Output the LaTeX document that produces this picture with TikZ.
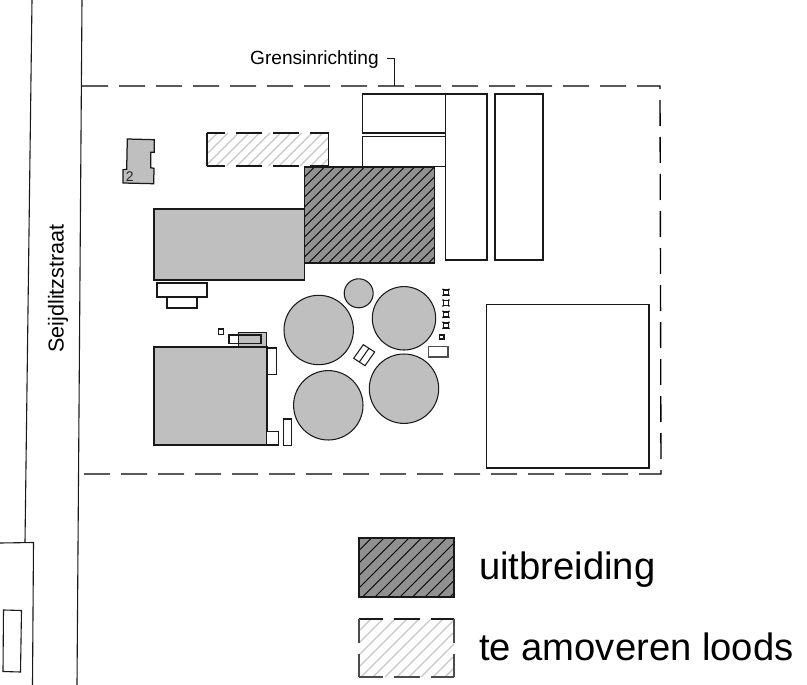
\documentclass[tikz,border=0pt]{standalone}
\usepackage{fontspec}
\setmainfont{Liberation Sans}
\definecolor{buildgray}{gray}{0.75}
\definecolor{newgray}{gray}{0.57}
\definecolor{oldhatch}{gray}{0.78}
\tikzset{
  outline/.style={draw=black!90,line width=1.05pt},
  plainbox/.style={outline,fill=white},
  graybox/.style={outline,fill=buildgray},
  tank/.style={outline,fill=buildgray},
  road/.style={draw=black!90,line width=1.1pt},
  fence/.style={draw=black,line width=1.35pt,dash pattern=on 26pt off 11pt},
  oldedge/.style={draw=black!90,line width=1.05pt,dash pattern=on 26pt off 11pt},
  hatchdark/.style={draw=black,line width=1pt},
  hatchlight/.style={draw=oldhatch,line width=1.2pt},
  lbl/.style={inner sep=0pt,text=black}
}
\newcommand{\hatchbox}[6]{% x1,y1,x2,y2,spacing,style
  \begin{scope}
    \clip (#1,#2) rectangle (#3,#4);
    \pgfmathsetmacro{\hh}{#4-#2}
    \pgfmathsetmacro{\hstart}{#1-\hh-#5}
    \pgfmathsetmacro{\hnext}{\hstart+#5}
    \foreach \xx in {\hstart,\hnext,...,#3}{
      \draw[#6] (\xx,#4) -- ++(\hh,-\hh);
    }
  \end{scope}
}
\begin{document}
\begin{tikzpicture}[x=1pt,y=-1pt]
\useasboundingbox (0,0) rectangle (807,685);
\fill[white] (0,0) rectangle (807,685);
% road
\draw[road] (32,0) -- (25,542.5);
\draw[road] (0,543) -- (33.5,542.5) -- (32.5,685);
\draw[road] (3.5,610) -- (21.5,610.5) -- (20.5,672) -- (3,671.5) -- cycle;
\draw[road] (82,0) -- (77,685);
% boundary
\draw[fence] (82,86) -- (660,86) -- (661,474) -- (79,474);
% removed shed
\hatchbox{207}{133}{328.5}{166}{10.5}{hatchlight}
\draw[oldedge,dash phase=8pt] (207,133) -- (328.5,133);
\draw[oldedge,dash phase=8pt] (207,166) -- (328.5,166);
\draw[outline] (207,133) -- (207,166);
\draw[outline] (328.5,133) -- (328.5,166);
% extension
\fill[newgray] (304.5,167) rectangle (434.7,263);
\hatchbox{304.5}{167}{434.7}{263}{10}{hatchdark}
\draw[outline] (304.5,167) rectangle (434.7,263);
% top storage boxes
\node[plainbox,inner sep=0pt,minimum width=82.5pt,minimum height=39pt] (boxa) at (404.2,113.5) {};
\node[plainbox,inner sep=0pt,minimum width=82.5pt,minimum height=30.5pt] (boxb) at (404.2,151.7) {};
\draw[plainbox] (445.5,94) rectangle (487,260);
\draw[plainbox] (495,94) rectangle (543,260);
\draw[plainbox] (486.5,304.7) rectangle (649,468);
% buildings
\draw[graybox] (154,209) rectangle (304.5,280);
\draw[plainbox] (157,283) rectangle (207,297);
\draw[plainbox] (167,297) rectangle (197,308);
\draw[graybox,line width=1.25pt] (127.3,139) -- (154.3,139.7) -- (154.3,152.3) -- (150.7,152.3) -- (150.7,167.7) -- (154,168.3) -- (153.7,183.7) -- (123,183) -- (123,169.7) -- (126.7,169.3) -- cycle;
\node[lbl,font=\fontsize{14}{14}\selectfont,text=black!85] (two) at (129.7,177) {2};
\draw[graybox] (154,347) rectangle (267,445);
\draw[plainbox] (229,335) rectangle (261,343.3);
\draw[graybox] (238.5,332.8) rectangle (266.7,347);
\draw[outline] (229,335) rectangle (261,343.3);
\draw[plainbox] (218.3,329) rectangle (223.7,334.3);
\draw[plainbox] (267,348) rectangle (276.3,374.7);
\draw[plainbox] (266.7,431.7) rectangle (278.7,445);
\draw[plainbox] (283.3,419) rectangle (291.7,445.3);
% tanks
\draw[tank] (318.7,330) circle[radius=34.7];
\draw[tank] (358.7,293.3) circle[radius=14.5];
\draw[tank] (404,318.3) circle[radius=31.7];
\draw[tank] (328.3,405.3) circle[radius=34.7];
\draw[tank] (404,388.7) circle[radius=34.7];
% rotated unit
\draw[plainbox] (363.3,344.7) -- (374.7,352) -- (365,365.7) -- (353.7,358.3) -- cycle;
\draw[outline] (369,348.3) -- (359.3,362);
% small units
\foreach \yy in {292.3,303,314.3,325.3}{
  \draw[plainbox,line width=1.6pt] (443.4,\yy-2.6) rectangle (448.6,\yy+2.6);
  \foreach \dx/\dy in {-3/-3,3/-3,-3/3,3/3}{
    \fill[black] (446+\dx,\yy+\dy) circle[radius=0.9];
  }
}
\draw[plainbox,line width=1.5pt] (439.5,334.9) rectangle (443.8,339.1);
\draw[plainbox,draw=black!70] (428.7,346.7) rectangle (448,357);
% labels
\node[lbl,anchor=west,font=\fontsize{19.1}{19.1}\selectfont] (gr) at (250,60) {Grensinrichting};
\coordinate (lead) at (387,58.7);
\draw[outline] (lead) -- (394.3,58.7) -- (394.3,85.7);
\node[lbl,rotate=90,font=\fontsize{21.6}{21.6}\selectfont] (street) at (58,288.5) {Seijdlitzstraat};
% legend
\fill[newgray] (359,538) rectangle (454,597);
\hatchbox{359}{538}{454}{597}{12.5}{hatchdark}
\draw[outline] (359,538) rectangle (454,597);
\hatchbox{359}{619}{454}{677}{12}{hatchlight}
\draw[oldedge,dash phase=2.3pt] (359,619) -- (454,619);
\draw[oldedge,dash phase=2.3pt,draw=black!70] (359,677) -- (454,677);
\draw[oldedge,dash phase=2.3pt,draw=black!70] (359,619) -- (359,677);
\draw[oldedge,dash phase=2.3pt,draw=black!70] (454,619) -- (454,677);
\node[lbl,anchor=west,font=\fontsize{38.2}{38.2}\selectfont] (l1) at (479,569.5) {uitbreiding};
\node[lbl,anchor=west,font=\fontsize{38.2}{38.2}\selectfont] (l2) at (479,647) {te amoveren loods};
\end{tikzpicture}
\end{document}
